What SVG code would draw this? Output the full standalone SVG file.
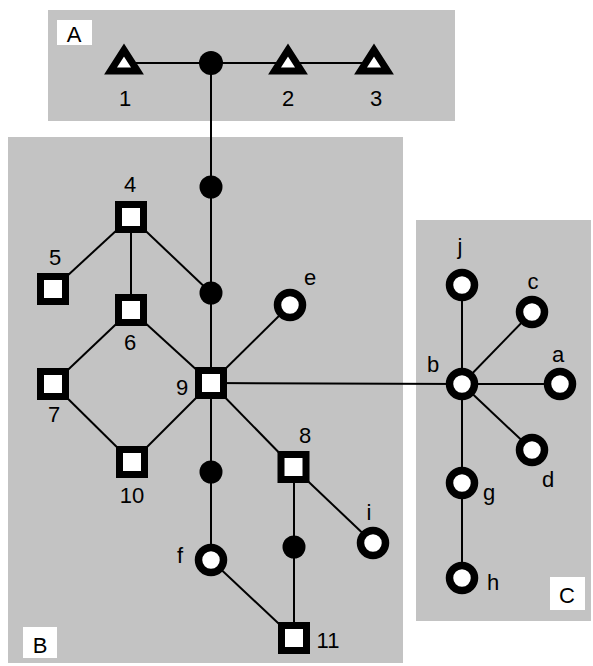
<svg xmlns="http://www.w3.org/2000/svg" width="593" height="666" viewBox="0 0 593 666">
<style>
.region{fill:#c3c3c3}
.lbox{fill:#ffffff}
.edge{stroke:#000;stroke-width:2;fill:none}
.sq{fill:#fff;stroke:#000;stroke-width:7}
.ci{fill:#fff;stroke:#000;stroke-width:7.5}
.tri{fill:#fff;stroke:#000;stroke-width:7;stroke-linejoin:miter}
.dot{fill:#000}
text{font-family:"Liberation Sans",Arial,sans-serif;font-size:22px;fill:#000;text-anchor:middle}
</style>
<rect width="593" height="666" fill="#fff"/>
<g id="regionA"><rect class="region" x="48" y="10" width="407" height="111"/><rect class="lbox" x="57" y="20" width="35" height="25"/><text x="74" y="42">A</text></g>
<g id="regionB"><rect class="region" x="8" y="137" width="395" height="526"/><rect class="lbox" x="23" y="627" width="34" height="31"/><text x="40" y="653">B</text></g>
<g id="regionC"><rect class="region" x="416" y="220" width="175" height="401"/><rect class="lbox" x="550" y="577" width="35" height="33"/><text x="567" y="603">C</text></g>
<g id="connectors">
<line class="edge" x1="124" y1="63" x2="374" y2="63"/>
<line class="edge" x1="211" y1="63" x2="211" y2="560"/>
<line class="edge" x1="131" y1="217" x2="53" y2="289"/>
<line class="edge" x1="131" y1="217" x2="131" y2="310"/>
<line class="edge" x1="131" y1="217" x2="211" y2="293"/>
<line class="edge" x1="131" y1="310" x2="53" y2="384"/>
<line class="edge" x1="131" y1="310" x2="211" y2="383"/>
<line class="edge" x1="53" y1="384" x2="132" y2="462"/>
<line class="edge" x1="132" y1="462" x2="211" y2="383"/>
<line class="edge" x1="211" y1="383" x2="290" y2="305"/>
<line class="edge" x1="211" y1="383" x2="462" y2="384"/>
<line class="edge" x1="211" y1="383" x2="293" y2="467"/>
<line class="edge" x1="211" y1="560" x2="294" y2="638"/>
<line class="edge" x1="294" y1="467" x2="294" y2="638"/>
<line class="edge" x1="293" y1="467" x2="373" y2="543"/>
<line class="edge" x1="462" y1="384" x2="462" y2="285"/>
<line class="edge" x1="462" y1="384" x2="532" y2="312"/>
<line class="edge" x1="462" y1="384" x2="560" y2="384"/>
<line class="edge" x1="462" y1="384" x2="532" y2="450"/>
<line class="edge" x1="462" y1="384" x2="462" y2="578"/>
</g>
<g id="n1"><polygon class="tri" points="124,50 110.5,71 137.5,71"/><text x="125" y="106">1</text></g>
<g id="n2"><polygon class="tri" points="288,50 274.5,71 301.5,71"/><text x="288" y="106">2</text></g>
<g id="n3"><polygon class="tri" points="374,50 360.5,71 387.5,71"/><text x="376" y="106">3</text></g>
<g id="dA"><circle class="dot" cx="211" cy="63" r="12"/></g>
<g id="d1"><circle class="dot" cx="211" cy="187" r="11.5"/></g>
<g id="d2"><circle class="dot" cx="211" cy="293" r="11.5"/></g>
<g id="d3"><circle class="dot" cx="211" cy="472" r="11.5"/></g>
<g id="d4"><circle class="dot" cx="294" cy="547" r="11.5"/></g>
<g id="n4"><rect class="sq" x="118.5" y="204.5" width="25" height="25"/><text x="130" y="192">4</text></g>
<g id="n5"><rect class="sq" x="40.5" y="276.5" width="25" height="25"/><text x="55" y="265">5</text></g>
<g id="n6"><rect class="sq" x="118.5" y="297.5" width="25" height="25"/><text x="130" y="350">6</text></g>
<g id="n7"><rect class="sq" x="40.5" y="371.5" width="25" height="25"/><text x="54" y="422">7</text></g>
<g id="n9"><rect class="sq" x="198.5" y="370.5" width="25" height="25"/><text x="182" y="395">9</text></g>
<g id="n10"><rect class="sq" x="119.5" y="449.5" width="25" height="25"/><text x="132" y="503">10</text></g>
<g id="n8"><rect class="sq" x="281" y="454.5" width="25" height="25"/><text x="305" y="443">8</text></g>
<g id="n11"><rect class="sq" x="281.5" y="625.5" width="25" height="25"/><text x="328" y="648">11</text></g>
<g id="ne"><circle class="ci" cx="290" cy="305" r="12.5"/><text x="310" y="285">e</text></g>
<g id="nf"><circle class="ci" cx="211" cy="560" r="12.5"/><text x="180" y="563">f</text></g>
<g id="ni"><circle class="ci" cx="373" cy="543" r="12.5"/><text x="369" y="520">i</text></g>
<g id="nb"><circle class="ci" cx="462" cy="384" r="12.5"/><text x="433" y="372">b</text></g>
<g id="nj"><circle class="ci" cx="462" cy="285" r="12.5"/><text x="460" y="254">j</text></g>
<g id="nc"><circle class="ci" cx="532" cy="312" r="12.5"/><text x="533" y="289">c</text></g>
<g id="na"><circle class="ci" cx="560" cy="384" r="12.5"/><text x="558" y="362">a</text></g>
<g id="nd"><circle class="ci" cx="532" cy="450" r="12.5"/><text x="548" y="487">d</text></g>
<g id="ng"><circle class="ci" cx="462" cy="483" r="12.5"/><text x="489" y="500">g</text></g>
<g id="nh"><circle class="ci" cx="462" cy="578" r="12.5"/><text x="493" y="590">h</text></g>
</svg>
